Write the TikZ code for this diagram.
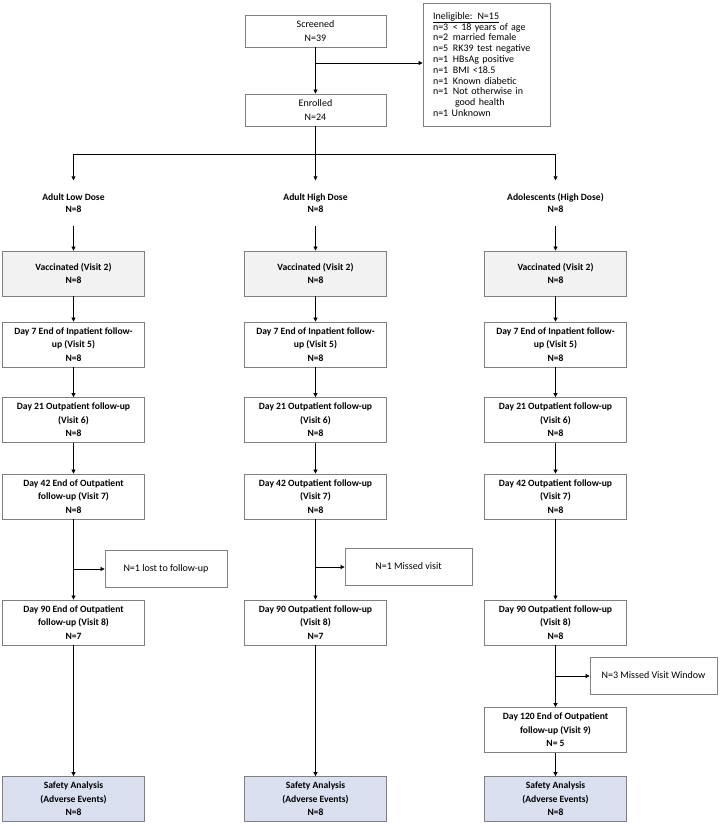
\documentclass[tikz,border=0pt]{standalone}
\usepackage{fontspec}
\setmainfont{Carlito}
\usetikzlibrary{arrows.meta}
\definecolor{vacgray}{HTML}{F2F2F2}
\definecolor{safeblue}{HTML}{DAE0EF}
\definecolor{boxline}{HTML}{808080}
\tikzset{
  box/.style={draw=boxline, line width=0.8pt, minimum width=142pt, minimum height=45pt, align=center, inner sep=2pt, font=\fontsize{9.6}{13.5}\selectfont\bfseries},
  topbox/.style={draw=boxline, line width=0.8pt, minimum width=141pt, minimum height=32pt, align=center, inner sep=2pt, font=\fontsize{10}{14}\selectfont},
  sidebox/.style={draw=boxline, line width=0.8pt, minimum height=37pt, font=\fontsize{10}{13}\selectfont},
  head/.style={minimum height=45pt, align=center, inner sep=0pt, font=\fontsize{9.6}{12}\selectfont\bfseries},
  arr/.style={-{Triangle[length=4pt,width=4pt]}, line width=0.7pt},
  ln/.style={line width=0.7pt}
}
\begin{document}
\begin{tikzpicture}[x=1pt,y=-1pt]
\useasboundingbox (0,0) rectangle (720,826);
% screening
\node[topbox] (scr) at (315.5,31) {Screened\\N=39};
\node[topbox] (enr) at (315.5,110) {Enrolled\\N=24};
\node[draw=boxline, line width=0.8pt, minimum height=123pt, text width=107pt, inner xsep=10pt, align=left, font=\fontsize{10}{10.8}\selectfont] (inel) at (486.5,64.5)
  {\underline{Ineligible: N=15}\\
   \makebox[20pt][l]{n=3}< 18 years of age\\
   \makebox[20pt][l]{n=2}married female\\
   \makebox[20pt][l]{n=5}RK39 test negative\\
   \makebox[20pt][l]{n=1}HBsAg positive\\
   \makebox[20pt][l]{n=1}BMI <18.5\\
   \makebox[20pt][l]{n=1}Known diabetic\\
   \makebox[20pt][l]{n=1}Not otherwise in\\
   \hspace*{22pt}good health\\
   n=1 Unknown};
\draw[arr] (scr) -- (enr);
\coordinate (b0) at (315.5,63);
\draw[arr] (b0) -- (b0 -| inel.west);
% groups
\node[head] (hL) at (73.5,203) {Adult Low Dose\\N=8};
\node[head] (hM) at (315.5,203) {Adult High Dose\\N=8};
\node[head] (hR) at (555.5,203) {Adolescents (High Dose)\\N=8};
\coordinate (fork) at (315.5,154);
\draw[ln] (enr) -- (fork);
\draw[arr] (fork) -| (hL.north);
\draw[arr] (fork) -| (hR.north);
\draw[arr] (fork) -- (hM.north);
% adult low dose
\node[box,fill=vacgray] (vL) at (73.5,273.5) {Vaccinated (Visit 2)\\N=8};
\node[box] (d7L) at (73.5,344.5) {Day 7 End of Inpatient follow-\\up (Visit 5)\\N=8};
\node[box] (d21L) at (73.5,420) {Day 21 Outpatient follow-up\\(Visit 6)\\N=8};
\node[box] (d42L) at (73.5,496.5) {Day 42 End of Outpatient\\follow-up (Visit 7)\\N=8};
\node[box] (d90L) at (73.5,622.5) {Day 90 End of Outpatient\\follow-up (Visit 8)\\N=7};
\node[box,fill=safeblue] (sL) at (73.5,799) {Safety Analysis\\(Adverse Events)\\N=8};
\node[sidebox, minimum width=122pt] (xL) at (166,568.5) {N=1 lost to follow-up};
% adult high dose
\node[box,fill=vacgray] (vM) at (315.5,273.5) {Vaccinated (Visit 2)\\N=8};
\node[box] (d7M) at (315.5,344.5) {Day 7 End of Inpatient follow-\\up (Visit 5)\\N=8};
\node[box] (d21M) at (315.5,420) {Day 21 Outpatient follow-up\\(Visit 6)\\N=8};
\node[box] (d42M) at (315.5,496.5) {Day 42 Outpatient follow-up\\(Visit 7)\\N=8};
\node[box] (d90M) at (315.5,622.5) {Day 90 Outpatient follow-up\\(Visit 8)\\N=7};
\node[box,fill=safeblue] (sM) at (315.5,799) {Safety Analysis\\(Adverse Events)\\N=8};
\node[sidebox, minimum width=127pt] (xM) at (408.5,566.5) {N=1 Missed visit};
% adolescents
\node[box,fill=vacgray] (vR) at (555.5,273.5) {Vaccinated (Visit 2)\\N=8};
\node[box] (d7R) at (555.5,344.5) {Day 7 End of Inpatient follow-\\up (Visit 5)\\N=8};
\node[box] (d21R) at (555.5,420) {Day 21 Outpatient follow-up\\(Visit 6)\\N=8};
\node[box] (d42R) at (555.5,496.5) {Day 42 Outpatient follow-up\\(Visit 7)\\N=8};
\node[box] (d90R) at (555.5,622.5) {Day 90 Outpatient follow-up\\(Visit 8)\\N=8};
\node[box] (d120R) at (555.5,730) {Day 120 End of Outpatient\\follow-up (Visit 9)\\N= 5};
\node[box,fill=safeblue] (sR) at (555.5,799) {Safety Analysis\\(Adverse Events)\\N=8};
\node[sidebox, minimum width=127pt] (xR) at (653.5,675.5) {N=3 Missed Visit Window};
% arrows
\draw[arr] (hL) -- (vL);
\draw[arr] (vL) -- (d7L);
\draw[arr] (d7L) -- (d21L);
\draw[arr] (d21L) -- (d42L);
\draw[arr] (d42L) -- (d90L);
\draw[arr] (d90L) -- (sL);
\coordinate (bL) at (73.5,569);
\draw[arr] (bL) -- (bL -| xL.west);
\draw[arr] (hM) -- (vM);
\draw[arr] (vM) -- (d7M);
\draw[arr] (d7M) -- (d21M);
\draw[arr] (d21M) -- (d42M);
\draw[arr] (d42M) -- (d90M);
\draw[arr] (d90M) -- (sM);
\coordinate (bM) at (315.5,567);
\draw[arr] (bM) -- (bM -| xM.west);
\draw[arr] (hR) -- (vR);
\draw[arr] (vR) -- (d7R);
\draw[arr] (d7R) -- (d21R);
\draw[arr] (d21R) -- (d42R);
\draw[arr] (d42R) -- (d90R);
\draw[arr] (d90R) -- (d120R);
\draw[arr] (d120R) -- (sR);
\coordinate (bR) at (555.5,676);
\draw[arr] (bR) -- (bR -| xR.west);
\end{tikzpicture}
\end{document}
